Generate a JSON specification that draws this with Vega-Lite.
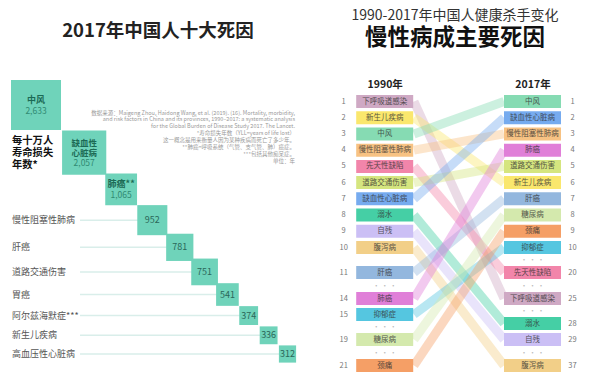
{
  "$schema": "https://vega.github.io/schema/vega-lite/v6.json",
  "padding": {"top": 8.5, "left": 0, "right": 0, "bottom": 0},
  "background": "white",
  "bounds": "flush",
  "spacing": 10,
  "config": {"view": {"stroke": null}, "font": "Noto Sans CJK SC", "title": {"font": "Noto Sans CJK SC", "subtitleFont": "Noto Sans CJK SC"}},
  "hconcat": [
    {
      "width": 300,
      "height": 270,
      "title": {"text": "2017年中国人十大死因", "fontSize": 18.5, "fontWeight": "bold", "color": "#222", "anchor": "middle", "dx": 8, "offset": 40},
      "data": {"values": [
        {"rank": 1, "name": "中风", "value": 2633, "boxLines": ["中风"]},
        {"rank": 2, "name": "缺血性心脏病", "value": 2057, "boxLines": ["缺血性", "心脏病"]},
        {"rank": 3, "name": "肺癌**", "value": 1065, "boxLines": ["肺癌**"]},
        {"rank": 4, "name": "慢性阻塞性肺病", "value": 952},
        {"rank": 5, "name": "肝癌", "value": 781},
        {"rank": 6, "name": "道路交通伤害", "value": 751},
        {"rank": 7, "name": "胃癌", "value": 541},
        {"rank": 8, "name": "阿尔兹海默症***", "value": 374},
        {"rank": 9, "name": "新生儿疾病", "value": 336},
        {"rank": 10, "name": "高血压性心脏病", "value": 312}
      ]},
      "layer": [
        {
          "transform": [{"filter": "datum.rank >= 4"}],
          "mark": {"type": "rule", "color": "#d9eeea", "strokeWidth": 1.5},
          "encoding": {
            "x": {"field": "rank", "type": "quantitative", "scale": {"type": "sqrt", "domain": [1, 10], "range": [36, 287.5], "zero": false, "nice": false}, "axis": null},
            "x2": {"datum": 1.9},
            "y": {"field": "rank", "type": "quantitative", "scale": {"type": "sqrt", "domain": [1, 10], "range": [12.5, 261.5], "zero": false, "nice": false}, "axis": null}
          }
        },
        {
          "mark": {"type": "point", "shape": "square", "filled": true, "opacity": 1, "color": "#6fd3ba", "strokeWidth": 0},
          "encoding": {
            "x": {"field": "rank", "type": "quantitative", "axis": null},
            "y": {"field": "rank", "type": "quantitative", "axis": null},
            "size": {"field": "value", "type": "quantitative", "scale": {"domain": [0, 2633], "range": [0, 2500]}, "legend": null}
          }
        },
        {
          "transform": [{"filter": "datum.rank >= 4"}],
          "mark": {"type": "text", "align": "left", "baseline": "middle", "fontSize": 9, "color": "#555"},
          "encoding": {
            "x": {"datum": 0.63, "type": "quantitative"},
            "y": {"field": "rank", "type": "quantitative"},
            "text": {"field": "name"}
          }
        },
        {
          "transform": [{"filter": "datum.rank >= 4"}],
          "mark": {"type": "text", "align": "center", "baseline": "middle", "fontSize": 9, "color": "#2b6759"},
          "encoding": {
            "x": {"field": "rank", "type": "quantitative"},
            "y": {"field": "rank", "type": "quantitative"},
            "text": {"field": "value", "type": "quantitative", "format": ","}
          }
        },
        {
          "transform": [{"filter": "datum.rank == 1 || datum.rank == 3"}],
          "mark": {"type": "text", "align": "center", "baseline": "middle", "fontSize": 9, "color": "#1c6a55", "fontWeight": "bold", "dy": -5.2},
          "encoding": {
            "x": {"field": "rank", "type": "quantitative"},
            "y": {"field": "rank", "type": "quantitative"},
            "text": {"field": "boxLines"}
          }
        },
        {
          "transform": [{"filter": "datum.rank == 1 || datum.rank == 3"}],
          "mark": {"type": "text", "align": "center", "baseline": "middle", "fontSize": 8.5, "color": "#2f8a72", "dy": 5.5},
          "encoding": {
            "x": {"field": "rank", "type": "quantitative"},
            "y": {"field": "rank", "type": "quantitative"},
            "text": {"field": "value", "type": "quantitative", "format": ","}
          }
        },
        {
          "transform": [{"filter": "datum.rank == 2"}],
          "mark": {"type": "text", "align": "center", "baseline": "middle", "fontSize": 8.5, "lineHeight": 10, "color": "#1c6a55", "fontWeight": "bold", "dy": -10},
          "encoding": {
            "x": {"field": "rank", "type": "quantitative"},
            "y": {"field": "rank", "type": "quantitative"},
            "text": {"field": "boxLines"}
          }
        },
        {
          "transform": [{"filter": "datum.rank == 2"}],
          "mark": {"type": "text", "align": "center", "baseline": "middle", "fontSize": 8.5, "color": "#2f8a72", "dy": 10.5},
          "encoding": {
            "x": {"field": "rank", "type": "quantitative"},
            "y": {"field": "rank", "type": "quantitative"},
            "text": {"field": "value", "type": "quantitative", "format": ","}
          }
        },
        {
          "data": {"values": [{"t": ["每十万人", "寿命损失", "年数*"]}]},
          "mark": {"type": "text", "align": "left", "baseline": "top", "fontSize": 10.3, "lineHeight": 12, "fontWeight": "bold", "color": "#111"},
          "encoding": {
            "x": {"datum": 0.63, "type": "quantitative"},
            "y": {"datum": 1.6, "type": "quantitative"},
            "text": {"field": "t"}
          }
        },
        {
          "data": {"values": [{"t": ["数据来源：Maigeng Zhou, Haidong Wang, et al. (2019). (16). Mortality, morbidity,", "and risk factors in China and its provinces, 1990–2017: a systematic analysis", "for the Global Burden of Disease Study 2017. The Lancet.", "*寿命损失年数（YLL=years of life lost）", "这一概念是用来衡量人因为某种疾病而死亡了多少年。", "**肺癌=呼吸系统（气管、支气管、肺）癌症。", "***包括其他痴呆症。", "单位：年"]}]},
          "mark": {"type": "text", "align": "right", "baseline": "top", "fontSize": 5.5, "lineHeight": 6.9, "color": "#999"},
          "encoding": {
            "x": {"datum": 10.41, "type": "quantitative"},
            "y": {"datum": 1.098, "type": "quantitative"},
            "text": {"field": "t"}
          }
        }
      ]
    },
    {
      "width": 290,
      "height": 285,
      "title": {"text": "1990-2017年中国人健康杀手变化", "subtitle": "慢性病成主要死因", "fontSize": 14, "fontWeight": "normal", "color": "#333", "subtitleFontSize": 22.5, "subtitleFontWeight": "bold", "subtitleColor": "#111", "subtitlePadding": 4.5, "anchor": "middle", "offset": 30},
      "data": {"values": [
        {"year": 1990, "name": "下呼吸道感染", "rank": 1},
        {"year": 1990, "name": "新生儿疾病", "rank": 2},
        {"year": 1990, "name": "中风", "rank": 3},
        {"year": 1990, "name": "慢性阻塞性肺病", "rank": 4},
        {"year": 1990, "name": "先天性缺陷", "rank": 5},
        {"year": 1990, "name": "道路交通伤害", "rank": 6},
        {"year": 1990, "name": "缺血性心脏病", "rank": 7},
        {"year": 1990, "name": "溺水", "rank": 8},
        {"year": 1990, "name": "自残", "rank": 9},
        {"year": 1990, "name": "腹泻病", "rank": 10},
        {"year": 1990, "name": "肝癌", "rank": 11},
        {"year": 1990, "name": "肺癌", "rank": 14},
        {"year": 1990, "name": "抑郁症", "rank": 15},
        {"year": 1990, "name": "糖尿病", "rank": 19},
        {"year": 1990, "name": "颈痛", "rank": 21},
        {"year": 2017, "name": "中风", "rank": 1},
        {"year": 2017, "name": "缺血性心脏病", "rank": 2},
        {"year": 2017, "name": "慢性阻塞性肺病", "rank": 3},
        {"year": 2017, "name": "肺癌", "rank": 4},
        {"year": 2017, "name": "道路交通伤害", "rank": 5},
        {"year": 2017, "name": "新生儿疾病", "rank": 6},
        {"year": 2017, "name": "肝癌", "rank": 7},
        {"year": 2017, "name": "糖尿病", "rank": 8},
        {"year": 2017, "name": "颈痛", "rank": 9},
        {"year": 2017, "name": "抑郁症", "rank": 10},
        {"year": 2017, "name": "先天性缺陷", "rank": 20},
        {"year": 2017, "name": "下呼吸道感染", "rank": 25},
        {"year": 2017, "name": "溺水", "rank": 28},
        {"year": 2017, "name": "自残", "rank": 29},
        {"year": 2017, "name": "腹泻病", "rank": 37}
      ]},
      "transform": [
        {"window": [{"op": "lag", "field": "rank", "as": "prevRank"}], "groupby": ["year"], "sort": [{"field": "rank", "order": "ascending"}]}
      ],
      "encoding": {
        "y": {"field": "rank", "type": "quantitative", "scale": {"domain": [1, 10, 11, 14, 15, 19, 20, 21, 25, 28, 29, 37], "range": [9, 155, 180, 206, 222, 247, 180, 273, 206, 231, 247, 273], "zero": false, "nice": false}, "axis": null},
        "color": {"field": "name", "type": "nominal", "legend": null, "scale": {
          "domain": ["下呼吸道感染", "新生儿疾病", "中风", "慢性阻塞性肺病", "先天性缺陷", "道路交通伤害", "缺血性心脏病", "溺水", "自残", "腹泻病", "肝癌", "肺癌", "抑郁症", "糖尿病", "颈痛"],
          "range": ["#cfa9c4", "#fae76d", "#86dbb3", "#f7c283", "#f285aa", "#d5e57f", "#76abef", "#45cfa5", "#cbbff5", "#f2cf88", "#93b7de", "#e07fd8", "#55c6e0", "#d4e9ad", "#f59f66"]}}
      },
      "layer": [
        {
          "mark": {"type": "line", "strokeWidth": 9, "opacity": 0.42, "strokeCap": "butt"},
          "encoding": {
            "x": {"field": "year", "type": "quantitative", "scale": {"domain": [1990, 2017], "range": [104, 194], "zero": false, "nice": false}, "axis": null},
            "detail": {"field": "name"}
          }
        },
        {
          "encoding": {
            "x": {"field": "year", "type": "quantitative", "scale": {"domain": [1990, 2017], "range": [74.7, 222.5], "zero": false, "nice": false},
              "axis": {"orient": "top", "values": [1990, 2017], "labelExpr": "datum.value + '年'", "ticks": false, "domain": false, "grid": false, "title": null, "labelFontSize": 10.5, "labelFontWeight": "bold", "labelColor": "#222", "labelPadding": 3, "labelFlush": false}}
          },
          "layer": [
            {
              "mark": {"type": "rect", "width": 57, "height": 13}
            },
            {
              "mark": {"type": "text", "fontSize": 7.5, "opacity": 0.8, "baseline": "middle"},
              "encoding": {"text": {"field": "name"}, "color": {"value": "#333"}}
            },
            {
              "transform": [{"filter": "datum.year == 1990"}],
              "mark": {"type": "text", "fontSize": 7.5, "dx": -41, "baseline": "middle"},
              "encoding": {"text": {"field": "rank"}, "color": {"value": "#777"}}
            },
            {
              "transform": [{"filter": "datum.year == 2017"}],
              "mark": {"type": "text", "fontSize": 7.5, "dx": 40, "baseline": "middle"},
              "encoding": {"text": {"field": "rank"}, "color": {"value": "#777"}}
            },
            {
              "transform": [{"filter": "datum.rank - datum.prevRank > 1"}],
              "mark": {"type": "text", "fontSize": 7, "dy": -12.5, "baseline": "middle"},
              "encoding": {"text": {"value": "· · ·"}, "color": {"value": "#bbb"}}
            }
          ]
        }
      ],
      "resolve": {"scale": {"x": "independent"}}
    }
  ]
}
